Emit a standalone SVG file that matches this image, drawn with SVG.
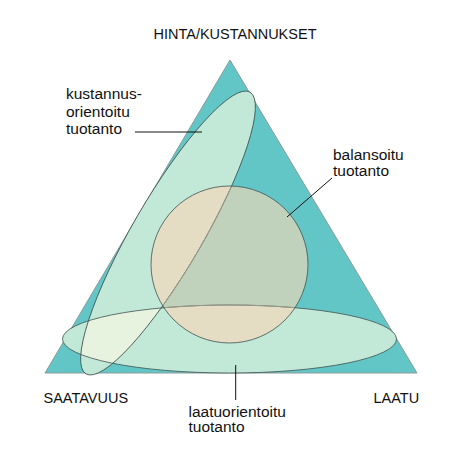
<svg xmlns="http://www.w3.org/2000/svg" width="453" height="456" viewBox="0 0 453 456">
<style>
text{font-family:"Liberation Sans",Arial,sans-serif;font-size:15.5px;fill:#111}
.cap{font-size:14.5px}
.lead{stroke:#111;stroke-width:1;fill:none}
.edge{fill:none;stroke:#3f5252;stroke-width:0.8}
.inner{fill:none;stroke:#a9a590;stroke-width:0.8}
</style>
<defs>
<ellipse id="eS" cx="168" cy="233" rx="163" ry="35" transform="rotate(-59.8 168 233)"/>
<ellipse id="eB" cx="229.5" cy="339" rx="167" ry="34"/>
<circle id="cC" cx="229.5" cy="264.5" r="78.5"/>
<clipPath id="clipS"><use href="#eS"/></clipPath>
<clipPath id="clipB"><use href="#eB"/></clipPath>
<clipPath id="clipC"><use href="#cC"/></clipPath>
</defs>
<g id="triangle">
<polygon points="230,60 45,373 417,373" fill="#63c6c6" stroke="#8a9a9a" stroke-width="1"/>
</g>
<g id="kustannus">
<use href="#eS" fill="#c2e8d8"/>
</g>
<g id="laatu">
<use href="#eB" fill="#c2e8d8"/>
<use href="#eB" fill="#e7f3df" clip-path="url(#clipS)"/>
</g>
<g id="balansoitu">
<use href="#cC" fill="#c0d1bc"/>
<g clip-path="url(#clipC)">
<use href="#eS" fill="#e4ddc3"/>
<use href="#eB" fill="#e4ddc3"/>
</g>
</g>
<g id="outlines">
<use href="#eS" class="edge"/>
<use href="#eB" class="edge"/>
<g clip-path="url(#clipC)">
<use href="#eS" class="inner"/>
<use href="#eB" class="inner"/>
</g>
<use href="#cC" class="edge"/>
</g>
<g id="connectors">
<line class="lead" x1="135" y1="132" x2="202" y2="132"/>
<line class="lead" x1="332" y1="178" x2="287" y2="217"/>
<line class="lead" x1="235.7" y1="365" x2="235.7" y2="400"/>
</g>
<g id="labels">
<text class="cap" x="235" y="39" text-anchor="middle">HINTA/KUSTANNUKSET</text>
<text x="66" y="99">kustannus-</text>
<text x="66" y="116.5">orientoitu</text>
<text x="66" y="134">tuotanto</text>
<text x="333" y="159.5">balansoitu</text>
<text x="333" y="176">tuotanto</text>
<text class="cap" x="43.5" y="402.5">SAATAVUUS</text>
<text class="cap" x="373.5" y="402.5">LAATU</text>
<text x="188.5" y="416.5">laatuorientoitu</text>
<text x="188.5" y="432">tuotanto</text>
</g>
</svg>
